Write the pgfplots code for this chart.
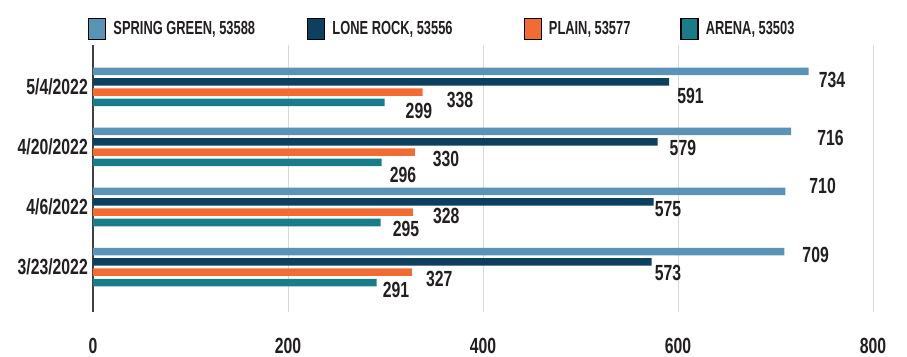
\documentclass[border=0pt]{standalone}
\usepackage{fontspec}
\setmainfont{Liberation Sans}[FakeStretch=0.72]
\usepackage{pgfplots}
\usepackage{pgfplotstable}
\pgfplotsset{compat=1.18}
\definecolor{sgc}{HTML}{5A93B5}
\definecolor{lrc}{HTML}{0D3F5E}
\definecolor{plc}{HTML}{F26B32}
\definecolor{arc}{HTML}{197C89}
\definecolor{txt}{HTML}{231F20}

\pgfplotstableread{
y v
0 709
1 710
2 716
3 734
}\tsg
\pgfplotstableread{
y v
0 573
1 575
2 579
3 591
}\tlr
\pgfplotstableread{
y v
0 327
1 328
2 330
3 338
}\tpl
\pgfplotstableread{
y v
0 291
1 295
2 296
3 299
}\tar

% vl={colour}{dx list}{dy list}: label offsets (bp) from bar end, per category
\pgfplotsset{
  vl/.style n args={3}{xbar, draw=none, fill=#1, point meta=x, nodes near coords,
    visualization depends on={value \coordindex\as\ci},
    nodes near coords style={font=\bfseries\fontsize{22}{22}\selectfont, text=txt, anchor=west, inner sep=0pt,
      xshift={{#2}[\ci]*1bp}, yshift={{#3}[\ci]*1bp}},
    legend image code/.code={\draw[fill=#1, draw=black, line width=1.3bp] (0bp,-10.5bp) rectangle (17bp,10.5bp);}},
}

\begin{document}
\begin{tikzpicture}
\useasboundingbox (-93bp,-45bp) rectangle (814bp,312bp);
\begin{axis}[
  at={(0,0)}, anchor=south west,
  scale only axis, width=780bp, height=267bp,
  xmin=0, xmax=800, ymin=-0.75, ymax=3.7,
  xbar, bar width=7.5bp,
  axis line style={draw=none},
  major tick length=0,
  xtick={200,400,600,800},
  extra x ticks={0},
  extra x tick style={grid style={black!75, line width=1.2bp}},
  xmajorgrids,
  grid style={black!15, line width=0.9bp},
  ytick={0,1,2,3},
  yticklabels={3/23/2022,4/6/2022,4/20/2022,5/4/2022},
  tick label style={font=\bfseries\fontsize{22}{22}\selectfont, text=txt},
  /pgf/number format/assume math mode=true,
  xticklabel style={inner sep=0pt, yshift=-26bp},
  yticklabel style={inner sep=0pt, xshift=-5bp},
  legend columns=4,
  legend style={at={(0,1)}, anchor=west, xshift=-5bp, yshift=16bp, draw=none, fill=none, inner sep=0pt,
    font=\bfseries\fontsize{19}{19}\selectfont\addfontfeature{FakeStretch=0.68}, text=txt,
    nodes={inner sep=0pt},
    /tikz/every odd column/.style={column sep=7bp},
    /tikz/column 2/.style={column sep=52bp},
    /tikz/column 4/.style={column sep=71bp},
    /tikz/column 6/.style={column sep=50bp}},
]
\addplot[vl={sgc}{18,24,26,10}{-3,6,-6,-8.5}, bar shift=15.5bp] table[x=v, y=y] {\tsg};
\addlegendentry{SPRING GREEN, 53588}
\addplot[vl={lrc}{3,1,12,8}{-11.5,-7.5,-6.5,-14.5}, bar shift=5.2bp] table[x=v, y=y] {\tlr};
\addlegendentry{LONE ROCK, 53556}
\addplot[vl={plc}{14,20,18,24}{-6.5,-3.5,-7,-7.5}, bar shift=-5.2bp] table[x=v, y=y] {\tpl};
\addlegendentry{PLAIN, 53577}
\addplot[vl={arc}{6,12,8,21}{-7.5,-6.5,-12.5,-8.5}, bar shift=-15.5bp] table[x=v, y=y] {\tar};
\addlegendentry{ARENA, 53503}
\end{axis}
\end{tikzpicture}
\end{document}
